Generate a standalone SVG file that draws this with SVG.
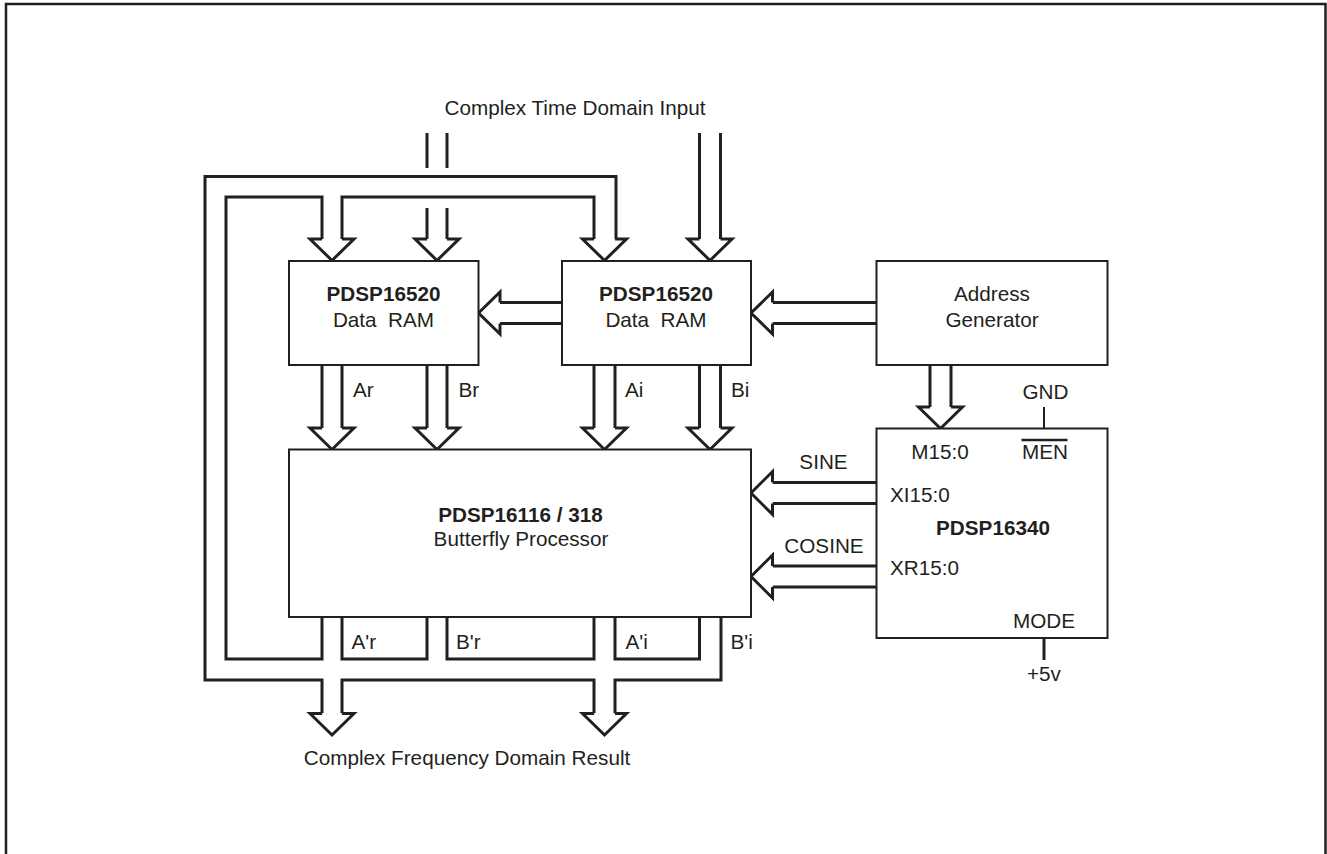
<svg xmlns="http://www.w3.org/2000/svg" width="1327" height="854" viewBox="0 0 1327 854">
<style>
.box{fill:#fff;stroke:#231f20;stroke-width:2}
.bus{fill:none;stroke:#231f20;stroke-width:3;stroke-linejoin:miter;stroke-linecap:butt}
.head{fill:#fff;stroke:#231f20;stroke-width:3;stroke-linejoin:miter}
.thin{fill:none;stroke:#231f20;stroke-width:2}
text{font-family:"Liberation Sans",Arial,Helvetica,sans-serif;font-size:20.7px;fill:#231f20}
.b{font-weight:bold}
.c{text-anchor:middle}
</style>
<rect x="6" y="4" width="1319.5" height="900" fill="#fff" stroke="#231f20" stroke-width="2.5"/>

<g id="connectors">
  <!-- input stubs -->
  <path class="bus" d="M427,133 V168 M447,133 V168"/>
  <path class="bus" d="M427,208 V239 M447,208 V239"/>
  <path class="bus" d="M699.5,133 V239 M720.5,133 V239"/>
  <!-- feedback buses -->
  <path class="bus" d="M322,617 V659 H226 V197 H322 V239"/>
  <path class="bus" d="M342,239 V197 H594 V239"/>
  <path class="bus" d="M616,239 V176.5 H205 V680 H322 V713.5"/>
  <path class="bus" d="M342,713.5 V680 H594 V713.5"/>
  <path class="bus" d="M615,713.5 V680 H721 V617"/>
  <path class="bus" d="M342,617 V659 H427 V617"/>
  <path class="bus" d="M447,617 V659 H594 V617"/>
  <path class="bus" d="M615,617 V659 H699.5 V617"/>
  <!-- RAM to butterfly shafts -->
  <path class="bus" d="M322,365 V428 M342,365 V428 M427,365 V428 M447,365 V428 M594,365 V428 M615,365 V428 M699.5,365 V428 M720.5,365 V428"/>
  <!-- horizontal shafts -->
  <path class="bus" d="M500,302.5 H562 M500,323.5 H562"/>
  <path class="bus" d="M772.5,302.5 H876.5 M772.5,323.5 H876.5"/>
  <path class="bus" d="M772.5,482.5 H876.5 M772.5,503.5 H876.5"/>
  <path class="bus" d="M772.5,566 H876.5 M772.5,587 H876.5"/>
  <path class="bus" d="M930,365 V407 M951,365 V407"/>
  <path class="thin" d="M1044,407 V428.5"/>
  <path class="bus" d="M1044,638 V660"/>
  <!-- down arrowheads -->
  <path class="head" d="M322,239 H310 L332,260.5 L354,239 H342"/>
  <path class="head" d="M427,239 H415 L437,260.5 L459,239 H447"/>
  <path class="head" d="M594,239 H582.5 L604.5,260.5 L626.5,239 H615"/>
  <path class="head" d="M699.5,239 H688 L710,260.5 L732,239 H720.5"/>
  <path class="head" d="M322,428 H310 L332,449.5 L354,428 H342"/>
  <path class="head" d="M427,428 H415 L437,449.5 L459,428 H447"/>
  <path class="head" d="M594,428 H582.5 L604.5,449.5 L626.5,428 H615"/>
  <path class="head" d="M699.5,428 H688 L710,449.5 L732,428 H720.5"/>
  <path class="head" d="M322,713.5 H310 L332,735 L354,713.5 H342"/>
  <path class="head" d="M594,713.5 H582.5 L604.5,735 L626.5,713.5 H615"/>
  <path class="head" d="M930,407 H918.5 L940.5,428.5 L962.5,407 H951"/>
  <!-- left arrowheads -->
  <path class="head" d="M500,302.5 V292 L478.5,313 L500,334 V323.5"/>
  <path class="head" d="M772.5,302.5 V292 L751,313 L772.5,334 V323.5"/>
  <path class="head" d="M772.5,482.5 V471.5 L751,493 L772.5,514.5 V503.5"/>
  <path class="head" d="M772.5,566 V555 L751,576.5 L772.5,598 V587"/>
</g>

<g id="ram1">
  <rect class="box" x="289" y="261" width="189.5" height="104"/>
  <text class="b c" x="383.5" y="301">PDSP16520</text>
  <text class="c" x="383.5" y="327" xml:space="preserve">Data  RAM</text>
</g>
<g id="ram2">
  <rect class="box" x="562" y="261" width="189" height="104"/>
  <text class="b c" x="656" y="301">PDSP16520</text>
  <text class="c" x="656" y="327" xml:space="preserve">Data  RAM</text>
</g>
<g id="addrgen">
  <rect class="box" x="876.5" y="261" width="231" height="104"/>
  <text class="c" x="992" y="301">Address</text>
  <text class="c" x="992" y="327">Generator</text>
</g>
<g id="butterfly">
  <rect class="box" x="289" y="449.5" width="462" height="167.5"/>
  <text class="b c" x="520.5" y="522">PDSP16116 / 318</text>
  <text class="c" x="521" y="546">Butterfly Processor</text>
</g>
<g id="pdsp16340">
  <rect class="box" x="876.5" y="428.5" width="231" height="209.5"/>
  <text class="c" x="940" y="459">M15:0</text>
  <text class="c" x="1045" y="459">MEN</text>
  <line x1="1021.5" y1="440" x2="1067.5" y2="440" stroke="#231f20" stroke-width="2.5"/>
  <text x="890" y="502">XI15:0</text>
  <text class="b c" x="993" y="534.5">PDSP16340</text>
  <text x="890" y="575">XR15:0</text>
  <text class="c" x="1044" y="627.5">MODE</text>
</g>

<g id="labels">
  <text class="c" x="575" y="115">Complex Time Domain Input</text>
  <text class="c" x="467" y="764.5">Complex Frequency Domain Result</text>
  <text x="353" y="397">Ar</text>
  <text x="458.5" y="397">Br</text>
  <text x="625" y="397">Ai</text>
  <text x="731" y="397">Bi</text>
  <text x="351.5" y="648.5">A'r</text>
  <text x="456" y="648.5">B'r</text>
  <text x="625.5" y="648.5">A'i</text>
  <text x="730.5" y="648.5">B'i</text>
  <text class="c" x="823.5" y="469">SINE</text>
  <text class="c" x="824" y="552.5">COSINE</text>
  <text class="c" x="1045.5" y="398.5">GND</text>
  <text class="c" x="1044" y="681">+5v</text>
</g>
</svg>
